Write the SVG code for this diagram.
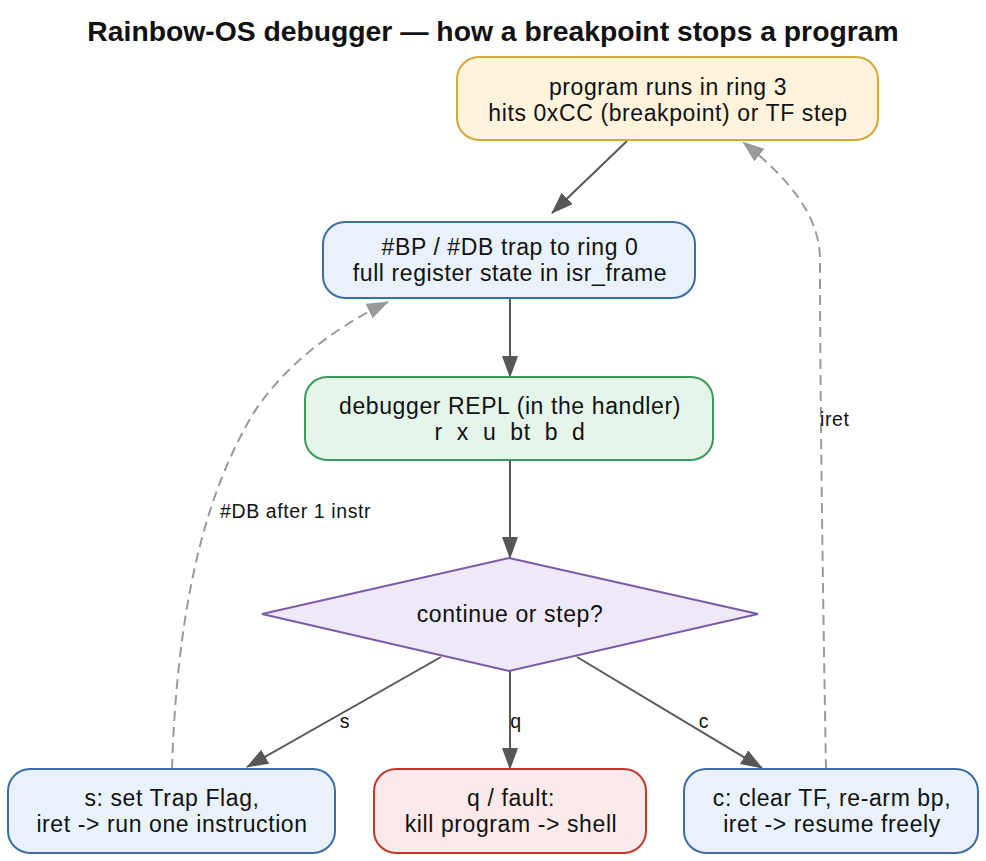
<svg xmlns="http://www.w3.org/2000/svg" width="986" height="861" viewBox="0 0 986 861">
<style>
text{font-family:"Liberation Sans",Arial,Helvetica,sans-serif;fill:#111}
.t{font-size:23px;letter-spacing:0.6px;text-anchor:middle;white-space:pre}
.e{font-size:19.5px;letter-spacing:0.6px}
.title{font-size:28.3px;font-weight:bold;text-anchor:middle}
.box{stroke-width:2}
.blue{fill:#e9f1fb;stroke:#3b6ea6}
.sol{fill:none;stroke:#575757;stroke-width:2}
.dash{fill:none;stroke:#9a9a9a;stroke-width:2;stroke-dasharray:10,6}
</style>
<defs>
<marker id="ah" markerUnits="userSpaceOnUse" markerWidth="24" markerHeight="18" refX="21" refY="8" orient="auto"><path d="M0,0 L22,8 L0,16 z" fill="#575757"/></marker>
<marker id="ahg" markerUnits="userSpaceOnUse" markerWidth="24" markerHeight="18" refX="21" refY="8" orient="auto"><path d="M0,0 L22,8 L0,16 z" fill="#9a9a9a"/></marker>
</defs>
<rect width="986" height="861" fill="#fff"/>
<text class="title" x="493" y="41">Rainbow-OS debugger — how a breakpoint stops a program</text>
<g id="connectors">
<path class="sol" d="M627,141 L552,213" marker-end="url(#ah)"/>
<path class="sol" d="M510,298 L510,377" marker-end="url(#ah)"/>
<path class="sol" d="M510,460 L510,558" marker-end="url(#ah)"/>
<path class="sol" d="M441,657 L247,767" marker-end="url(#ah)"/>
<path class="sol" d="M510,671 L510,769" marker-end="url(#ah)"/>
<path class="sol" d="M577,657 L762,768" marker-end="url(#ah)"/>
<path class="dash" d="M172,769 C176,640 195,520 244,430 C270,378 325,332 388,302" marker-end="url(#ahg)"/>
<path class="dash" d="M826,769 C823,600 820,400 820,260 C820,215 788,178 743,142" marker-end="url(#ahg)"/>
<text class="e" x="345" y="728" text-anchor="middle">s</text>
<text class="e" x="516" y="728" text-anchor="middle">q</text>
<text class="e" x="704" y="728" text-anchor="middle">c</text>
<text class="e" x="220" y="518">#DB after 1 instr</text>
<text class="e" x="820" y="426">iret</text>
</g>
<g id="n_run">
<rect class="box" x="457" y="57" width="421" height="83" rx="22" fill="#fff3db" stroke="#d5a63a"/>
<text class="t" x="668" y="95">program runs in ring 3</text>
<text class="t" x="668" y="121">hits 0xCC (breakpoint) or TF step</text>
</g>
<g id="n_trap">
<rect class="box blue" x="323" y="222" width="372" height="76" rx="22"/>
<text class="t" x="510" y="255">#BP / #DB trap to ring 0</text>
<text class="t" x="510" y="281">full register state in isr_frame</text>
</g>
<g id="n_repl">
<rect class="box" x="305" y="377" width="408" height="83" rx="22" fill="#e6f5e9" stroke="#3d9a5c"/>
<text class="t" x="510" y="414">debugger REPL (in the handler)</text>
<text class="t" x="510" y="440">r  x  u  bt  b  d</text>
</g>
<g id="n_choice">
<polygon class="box" points="509,558 758,614 509,671 262,614" fill="#efe8f8" stroke="#7b5ba8"/>
<text class="t" x="510" y="622">continue or step?</text>
</g>
<g id="n_step">
<rect class="box blue" x="8" y="769" width="327" height="84" rx="22"/>
<text class="t" x="172" y="806">s: set Trap Flag,</text>
<text class="t" x="172" y="832">iret -&gt; run one instruction</text>
</g>
<g id="n_quit">
<rect class="box" x="374" y="769" width="272" height="84" rx="22" fill="#fce9e9" stroke="#c0392b"/>
<text class="t" x="511" y="806">q / fault:</text>
<text class="t" x="511" y="832">kill program -&gt; shell</text>
</g>
<g id="n_cont">
<rect class="box blue" x="684" y="769" width="294" height="84" rx="22"/>
<text class="t" x="832" y="806">c: clear TF, re-arm bp,</text>
<text class="t" x="832" y="832">iret -&gt; resume freely</text>
</g>
</svg>
